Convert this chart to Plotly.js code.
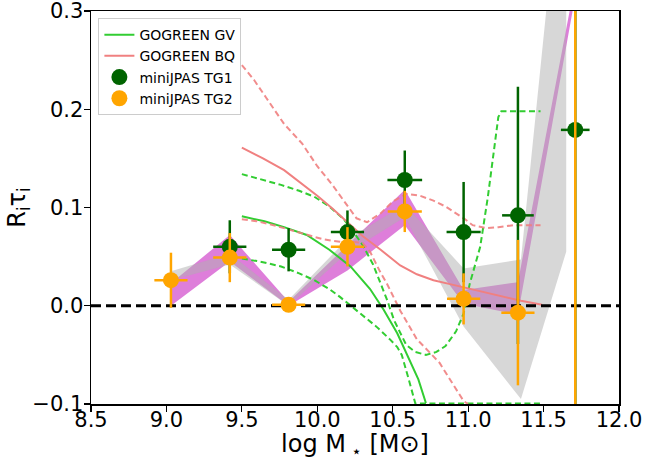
<!DOCTYPE html>
<html>
<head>
<meta charset="utf-8">
<script src="https://cdn.plot.ly/plotly-3.0.1.min.js"></script>
<style>html,body{margin:0;padding:0;background:#fff;}#chart{width:665px;height:461px;}</style>
</head>
<body>
<div id="chart"></div>
<script>
// ---- data ----
const binX = [9.03, 9.42, 9.81, 10.2, 10.58, 10.97, 11.33, 11.71];

// purple band
const purpleUpper = [0.023, 0.072, 0.004, 0.062, 0.118, 0.016, 0.024, 0.33];
const purpleLower = [0.0, 0.045, 0.0, 0.036, 0.082, 0.002, -0.009, 0.315];

// grey band
const greyX = [9.03, 9.42, 9.81, 10.2, 10.58, 10.97, 11.35, 11.65];
const greyUpper = [0.035, 0.053, 0.006, 0.068, 0.103, 0.038, 0.047, 0.5];
const greyLower = [0.026, 0.042, 0.0, 0.054, 0.090, -0.021, -0.095, 0.055];

// GOGREEN GV
const gvX = [9.5, 9.65, 9.78, 9.93, 10.08, 10.22, 10.35, 10.44, 10.53, 10.61, 10.67, 10.72];
const gvY = [0.091, 0.086, 0.080, 0.072, 0.057, 0.040, 0.017, -0.004, -0.028, -0.055, -0.075, -0.099];
const gvUpX = [9.5, 9.62, 9.76, 9.88, 9.98, 10.08, 10.17, 10.24, 10.3, 10.37, 10.42, 10.46, 10.51, 10.55, 10.59, 10.65, 10.72, 10.79, 10.85, 10.92, 10.97, 11.01, 11.05, 11.08, 11.13, 11.175, 11.2, 11.22, 11.48];
const gvUpY = [0.134, 0.129, 0.123, 0.117, 0.111, 0.101, 0.089, 0.075, 0.062, 0.042, 0.023, 0.007, -0.015, -0.028, -0.040, -0.047, -0.050, -0.047, -0.041, -0.026, -0.008, 0.022, 0.045, 0.060, 0.110, 0.165, 0.192, 0.198, 0.198];
const gvLoX = [9.5, 9.62, 9.76, 9.88, 9.98, 10.08, 10.15, 10.22, 10.31, 10.39, 10.48, 10.53, 10.56, 10.59, 10.61, 10.65, 11.48];
const gvLoY = [0.048, 0.045, 0.040, 0.033, 0.026, 0.017, 0.009, 0.0, -0.011, -0.021, -0.034, -0.042, -0.050, -0.065, -0.077, -0.0995, -0.0995];

// GOGREEN BQ
const bqX = [9.5, 9.64, 9.78, 9.9, 10.0, 10.1, 10.2, 10.3, 10.42, 10.55, 10.66, 10.77, 10.88, 10.99, 11.1, 11.21, 11.35, 11.49];
const bqY = [0.161, 0.150, 0.138, 0.124, 0.112, 0.099, 0.085, 0.071, 0.057, 0.041, 0.032, 0.026, 0.022, 0.018, 0.014, 0.0095, 0.005, 0.001];
const bqUpX = [9.5, 9.58, 9.66, 9.78, 9.9, 10.0, 10.1, 10.2, 10.26, 10.33, 10.42, 10.5, 10.59, 10.68, 10.77, 10.85, 10.92, 10.98, 11.03, 11.12, 11.2, 11.3, 11.48];
const bqUpY = [0.245, 0.230, 0.212, 0.185, 0.165, 0.142, 0.123, 0.102, 0.089, 0.085, 0.094, 0.106, 0.114, 0.112, 0.107, 0.101, 0.094, 0.088, 0.082, 0.079, 0.080, 0.082, 0.082];
const bqLoX = [9.5, 9.6, 9.71, 9.82, 9.93, 10.03, 10.1, 10.17, 10.24, 10.3, 10.35, 10.415, 10.46, 10.55, 10.66, 10.74, 10.81, 10.9, 10.97, 11.0];
const bqLoY = [0.088, 0.086, 0.082, 0.077, 0.072, 0.068, 0.066, 0.065, 0.065, 0.064, 0.055, 0.035, 0.023, -0.005, -0.034, -0.047, -0.058, -0.080, -0.097, -0.1];

// miniJPAS
const tg1X = [9.42, 9.81, 10.2, 10.58, 10.97, 11.33, 11.71];
const tg1Y = [0.060, 0.057, 0.075, 0.128, 0.075, 0.092, 0.179];
const tg1Yerr = [0.027, 0.022, 0.022, 0.030, 0.051, 0.131, 0.6];
const tg1Xerr = [0.11, 0.11, 0.11, 0.115, 0.113, 0.105, 0.095];

const tg2X = [9.03, 9.42, 9.81, 10.2, 10.58, 10.97, 11.33, 11.71];
const tg2Y = [0.026, 0.049, 0.001, 0.060, 0.096, 0.007, -0.007, 0.6];
const tg2Yerr = [0.028, 0.025, 0.003, 0.020, 0.021, 0.026, 0.074, 1.0];
const tg2Xerr = [0.11, 0.11, 0.11, 0.11, 0.113, 0.11, 0.11, 0.095];

const zeroX = [8.5, 12.0];
const zeroY = [0, 0];

const xTicks = [8.5, 9.0, 9.5, 10.0, 10.5, 11.0, 11.5, 12.0];
const yTicks = [-0.1, 0.0, 0.1, 0.2, 0.3];

// ---- build ----
function band(xs, up, lo, color) {
  return {
    x: xs.concat(xs.slice().reverse()),
    y: up.concat(lo.slice().reverse()),
    fill: 'toself', fillcolor: color, mode: 'lines',
    line: {width: 0, color: color}, showlegend: false, hoverinfo: 'skip'
  };
}
const GREEN = '#32CD32', CORAL = '#F08080';
const gdash = '6px,3.5px';
const traces = [
  band(binX, purpleUpper, purpleLower, 'rgba(218,112,214,0.9)'),
  band(greyX, greyUpper, greyLower, 'rgba(176,176,176,0.5)'),
  {x: gvX, y: gvY, mode: 'lines', name: 'GOGREEN GV', line: {color: GREEN, width: 2}},
  {x: gvUpX, y: gvUpY, mode: 'lines', showlegend: false, line: {color: GREEN, width: 2, dash: gdash}},
  {x: gvLoX, y: gvLoY, mode: 'lines', showlegend: false, line: {color: GREEN, width: 2, dash: gdash}},
  {x: bqX, y: bqY, mode: 'lines', name: 'GOGREEN BQ', line: {color: CORAL, width: 2}},
  {x: bqUpX, y: bqUpY, mode: 'lines', showlegend: false, line: {color: 'rgba(240,128,128,0.9)', width: 2, dash: gdash}},
  {x: bqLoX, y: bqLoY, mode: 'lines', showlegend: false, line: {color: 'rgba(240,128,128,0.9)', width: 2, dash: gdash}},
  {x: zeroX, y: zeroY, mode: 'lines', showlegend: false, line: {color: 'black', width: 3, dash: '10px,5px'}},
  {x: tg1X, y: tg1Y, mode: 'markers', name: 'miniJPAS TG1',
   marker: {color: '#006400', size: 16},
   error_y: {type: 'data', array: tg1Yerr, color: '#006400', thickness: 2.5, width: 0},
   error_x: {type: 'data', array: tg1Xerr, color: '#006400', thickness: 2.5, width: 0}},
  {x: tg2X, y: tg2Y, mode: 'markers', name: 'miniJPAS TG2',
   marker: {color: '#FFA500', size: 16},
   error_y: {type: 'data', array: tg2Yerr, color: '#FFA500', thickness: 2.5, width: 0},
   error_x: {type: 'data', array: tg2Xerr, color: '#FFA500', thickness: 2.5, width: 0}}
];

const FONT = 'DejaVu Sans, sans-serif';
const layout = {
  width: 665, height: 461,
  margin: {l: 90.5, r: 45.5, t: 11, b: 57},
  paper_bgcolor: 'white', plot_bgcolor: 'white',
  font: {family: FONT, color: 'black', size: 21},
  showlegend: true,
  legend: {x: 0.014, y: 0.982, xanchor: 'left', yanchor: 'top',
    bgcolor: 'rgba(255,255,255,0.8)', bordercolor: '#cccccc', borderwidth: 1,
    font: {family: FONT, size: 14, color: 'black'}},
  xaxis: {range: [8.5, 12.0], tickvals: xTicks, ticktext: xTicks.map(v => v.toFixed(1)),
    showgrid: false, zeroline: false, showline: true, mirror: true, linecolor: 'black', linewidth: 1.5,
    ticks: 'outside', ticklen: 6, tickwidth: 1.2, tickcolor: 'black', ticklabelstandoff: -10,
    ticklabeloverflow: 'allow',
    tickfont: {size: 21, family: FONT},
    title: {text: 'log M<sub> ⋆</sub> [M⊙]', font: {size: 24, family: FONT}, standoff: 0}},
  yaxis: {range: [-0.1, 0.3000001], tickvals: yTicks, ticktext: yTicks.map(v => (v < 0 ? '\u2212' : '') + Math.abs(v).toFixed(1)),
    showgrid: false, zeroline: false, showline: true, mirror: true, linecolor: 'black', linewidth: 1.5,
    ticks: 'outside', ticklen: 6, tickwidth: 1.2, tickcolor: 'black', ticklabelstandoff: -4,
    ticklabeloverflow: 'allow',
    tickfont: {size: 21, family: FONT},
    title: {text: 'R<sub>i</sub>τ<sub>i</sub>', font: {size: 24, family: FONT}, standoff: 0}}
};
Plotly.newPlot('chart', traces, layout, {displayModeBar: false, staticPlot: true});
</script>
</body>
</html>
